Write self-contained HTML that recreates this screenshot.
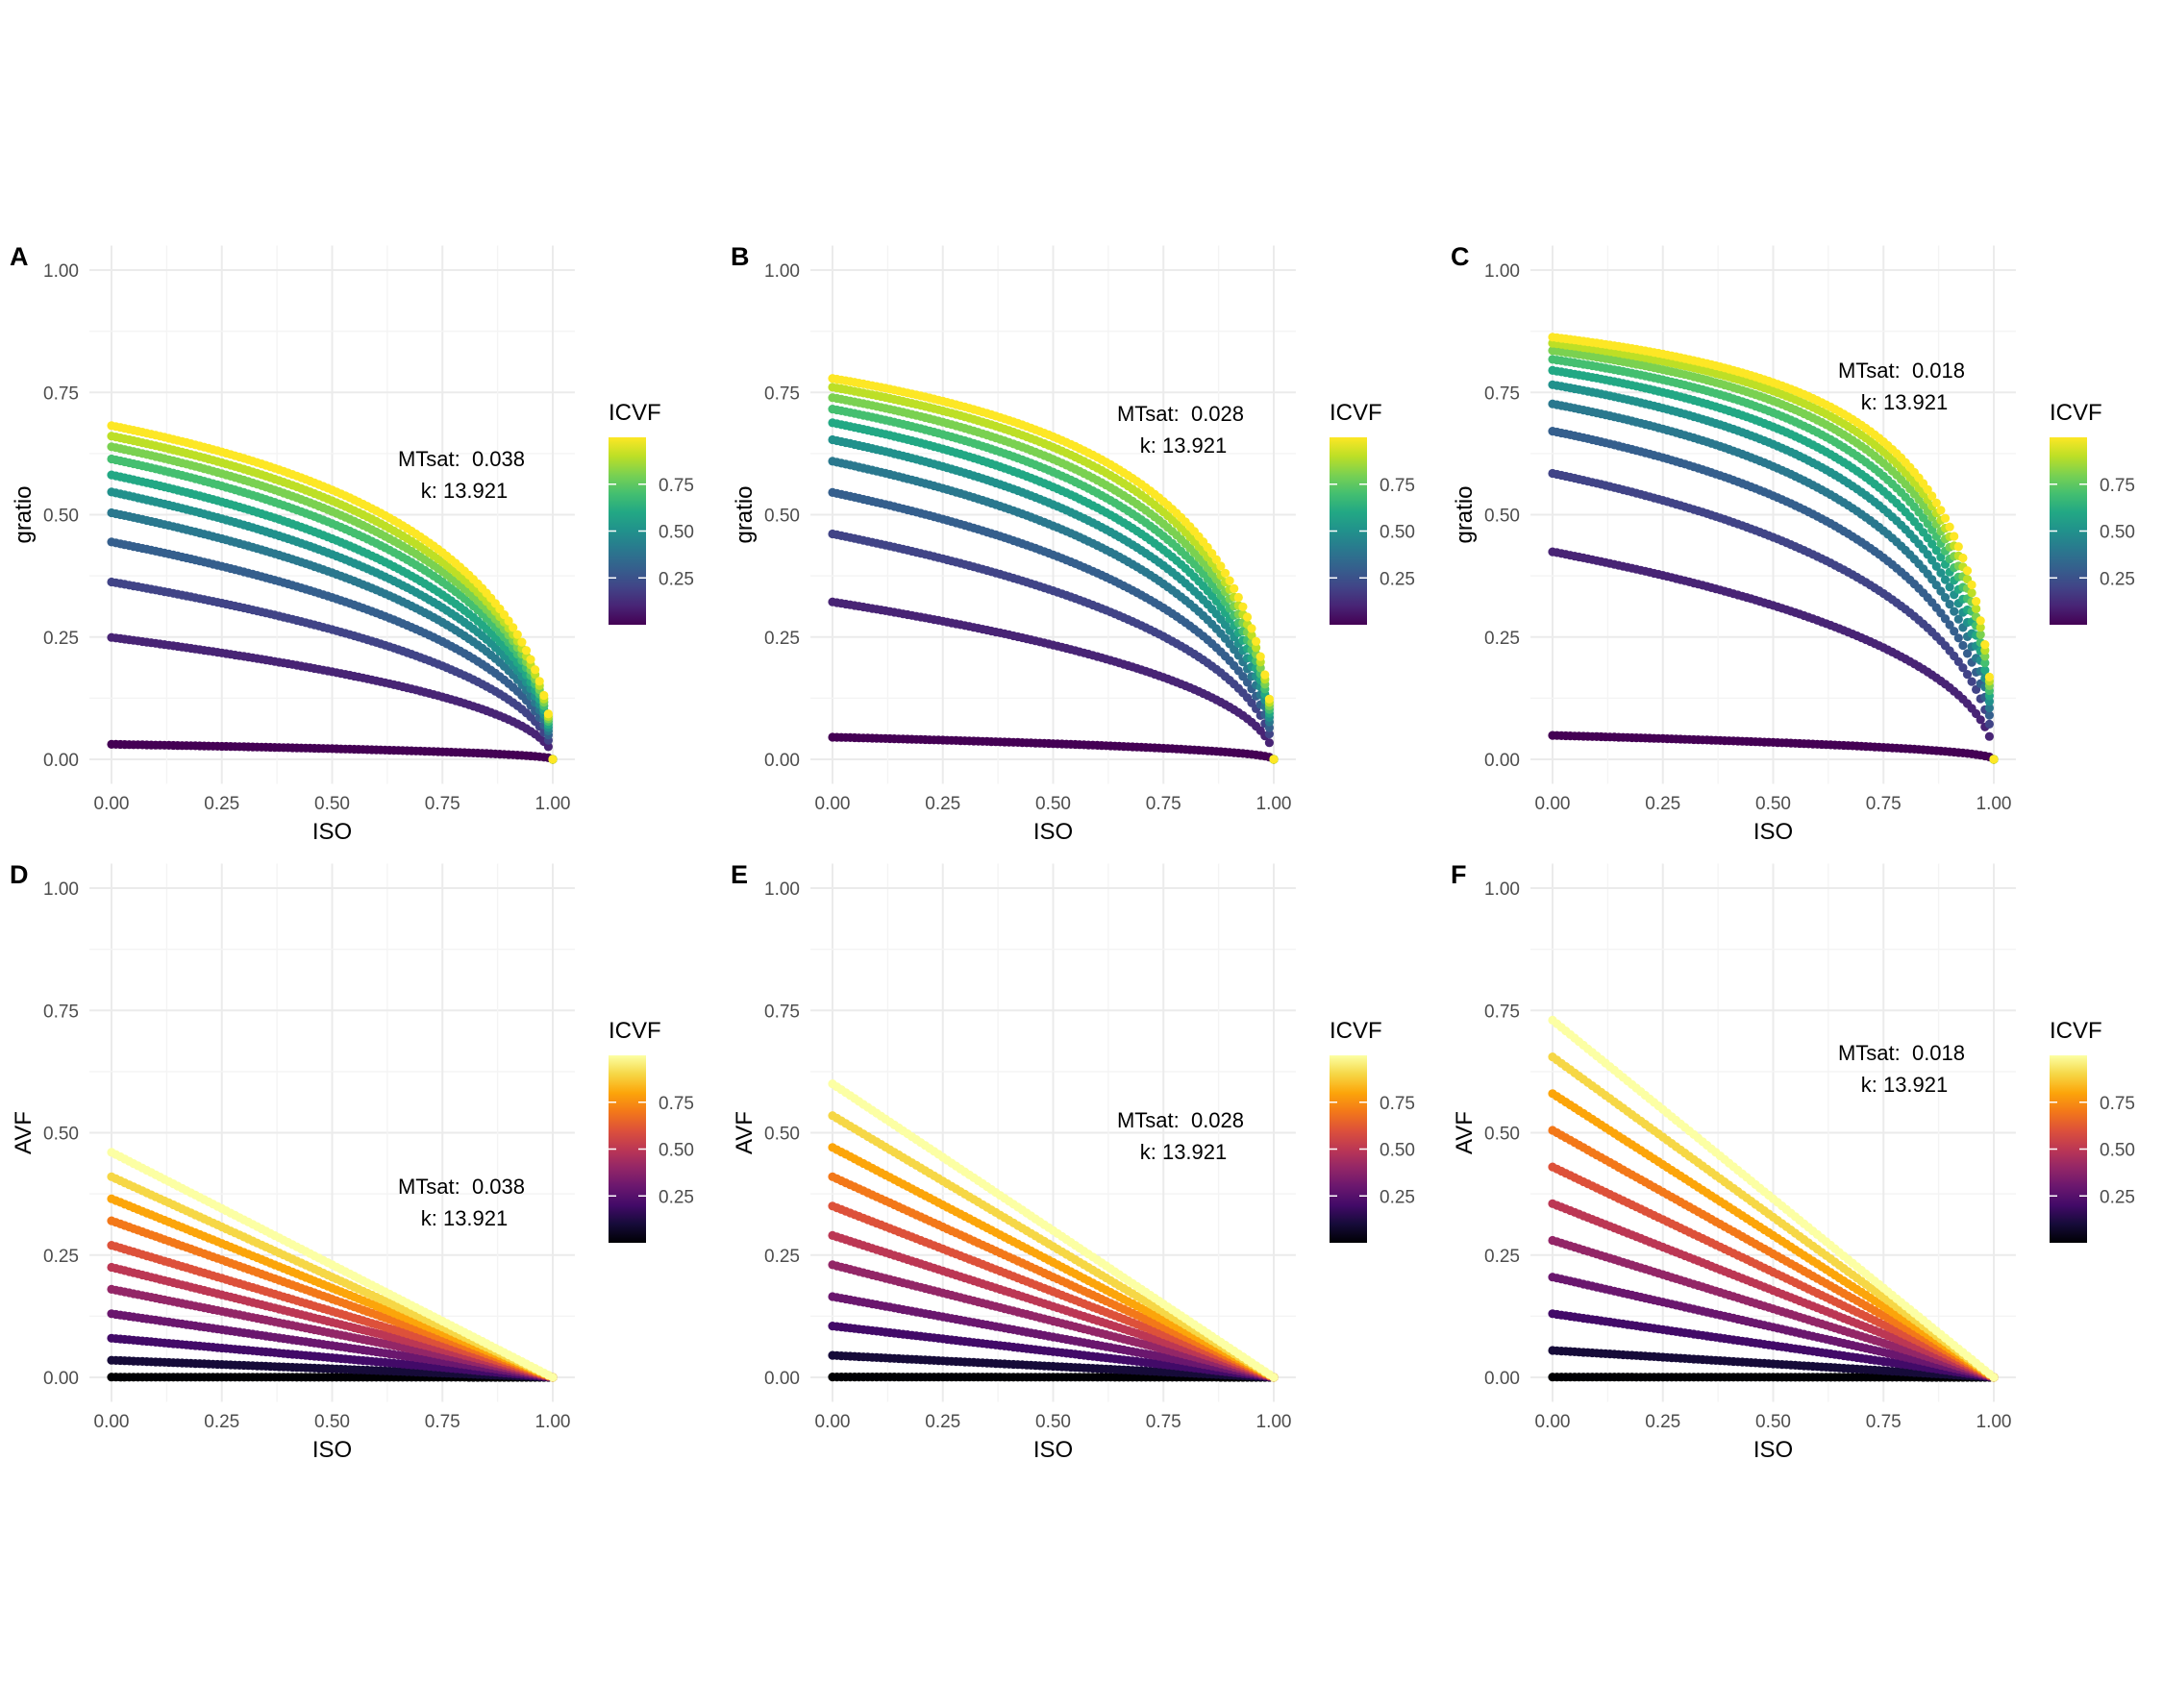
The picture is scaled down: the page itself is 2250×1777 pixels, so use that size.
<!DOCTYPE html>
<html><head><meta charset="utf-8"><style>
html,body{margin:0;padding:0;background:#fff;}
svg text{font-family:"Liberation Sans",sans-serif;white-space:pre;}
</style></head><body>
<svg id="fig" xmlns="http://www.w3.org/2000/svg" width="2250" height="1772" viewBox="0 0 2250 1772">
<defs>
<linearGradient id="gv" x1="0" y1="1" x2="0" y2="0">
<stop offset="0" stop-color="#440154"/><stop offset="0.1" stop-color="#482475"/><stop offset="0.2" stop-color="#414487"/><stop offset="0.3" stop-color="#355f8d"/><stop offset="0.4" stop-color="#2a788e"/><stop offset="0.5" stop-color="#21918c"/><stop offset="0.6" stop-color="#22a884"/><stop offset="0.7" stop-color="#44bf70"/><stop offset="0.8" stop-color="#7ad151"/><stop offset="0.9" stop-color="#bddf26"/><stop offset="1" stop-color="#fde725"/>
</linearGradient>
<linearGradient id="gi" x1="0" y1="1" x2="0" y2="0">
<stop offset="0" stop-color="#000004"/><stop offset="0.1" stop-color="#160b39"/><stop offset="0.2" stop-color="#420a68"/><stop offset="0.3" stop-color="#6a176e"/><stop offset="0.4" stop-color="#932667"/><stop offset="0.5" stop-color="#bc3754"/><stop offset="0.6" stop-color="#dd513a"/><stop offset="0.7" stop-color="#f37819"/><stop offset="0.8" stop-color="#fca50a"/><stop offset="0.9" stop-color="#f6d746"/><stop offset="1" stop-color="#fcffa4"/>
</linearGradient>
</defs>
</svg>
<script>
// ---- data ----
const icvf = [0,0.1,0.2,0.3,0.4,0.5,0.6,0.7,0.8,0.9,1.0];
const mtsat = [0.038, 0.028, 0.018];
const kval = 13.921;
const avfStartD = [0.0005,0.035,0.08,0.13,0.18,0.225,0.27,0.32,0.365,0.41,0.46];
const avfStartE = [0.0008,0.045,0.105,0.165,0.23,0.29,0.35,0.41,0.47,0.535,0.60];
const avfStartF = [0.0006,0.055,0.13,0.205,0.28,0.355,0.43,0.505,0.58,0.655,0.73];
const ticks = [0,0.25,0.5,0.75,1];
const tickLabels = ["0.00","0.25","0.50","0.75","1.00"];
const legendTicks = [0.25,0.5,0.75];
const legendLabels = ["0.25","0.50","0.75"];
const panelLetters = ["A","B","C","D","E","F"];

const NS="http://www.w3.org/2000/svg";
const svg=document.getElementById('fig');
function mk(tag,attrs,parent){const e=document.createElementNS(NS,tag);for(const k in attrs)e.setAttribute(k,attrs[k]);(parent||svg).appendChild(e);return e;}
function hex(h){return [parseInt(h.slice(1,3),16),parseInt(h.slice(3,5),16),parseInt(h.slice(5,7),16)];}
const vir=["#440154","#482475","#414487","#355f8d","#2a788e","#21918c","#22a884","#44bf70","#7ad151","#bddf26","#fde725"].map(hex);
const inf=["#000004","#160b39","#420a68","#6a176e","#932667","#bc3754","#dd513a","#f37819","#fca50a","#f6d746","#fcffa4"].map(hex);
function cmap(s,t){t=Math.max(0,Math.min(1,t));const p=t*10,i=Math.min(9,Math.floor(p)),f=p-i;const c=s[i].map((v,j)=>Math.round(v+(s[i+1][j]-v)*f));return `rgb(${c[0]},${c[1]},${c[2]})`;}

const colX=[116,866,1615], rowY=[790,1433];
const W=459, H=509;
const annX=[480,1228,1978], annY=[[478,431,386],[1235,1166,1096]];

function panel(ci,ri,idx,avfStart){
  const x0=colX[ci], y0=rowY[ri];
  const sx=v=>x0+v*W, sy=v=>y0-v*H;
  const g=mk('g',{});
  
  
  for(let n=0;n<=8;n++){
    const v=n/8;
    const major=n%2===0;
    const c=major?'#ebebeb':'#f4f4f4', w=major?2:1.4;
    const l1=mk('line',{x1:sx(v),x2:sx(v),y1:sy(1.05),y2:sy(-0.05),stroke:c,'stroke-width':w},g);
    
    const l2=mk('line',{x1:sx(-0.05),x2:sx(1.05),y1:sy(v),y2:sy(v),stroke:c,'stroke-width':w},g);
    
  }
  ticks.forEach((t,i)=>{
    const a=mk('text',{x:sx(t),y:y0+52,'font-size':19,fill:'#4d4d4d','text-anchor':'middle'},g);a.textContent=tickLabels[i];
    
    const b=mk('text',{x:x0-34,y:sy(t)+7,'font-size':19,fill:'#4d4d4d','text-anchor':'end'},g);b.textContent=tickLabels[i];
    
  });
  const xt=mk('text',{x:sx(0.5),y:y0+83,'font-size':24,fill:'#000','text-anchor':'middle'},g);xt.textContent='ISO';
  
  const ytx=x0-84, yty=sy(0.5);
  const yt=mk('text',{x:ytx,y:yty,'font-size':24,fill:'#000','text-anchor':'middle',transform:`rotate(-90 ${ytx} ${yty})`},g);
  yt.textContent=ri===0?'gratio':'AVF';
  
  const pl=mk('text',{x:x0-106,y:sy(1)-5,'font-size':27,'font-weight':'bold',fill:'#000'},g);pl.textContent=panelLetters[idx];
  
  const m=mtsat[ci]*kval;
  const sc=ri===0?vir:inf;
  icvf.forEach((iv,k)=>{
    const sg=mk('g',{fill:cmap(sc,iv)},g);
    
    
    for(let n=0;n<=100;n++){
      const iso=n/100;
      const a=avfStart[k]*(1-iso);
      const val=ri===0?(a+m>0?Math.sqrt(a/(m+a)):0):a;
      mk('circle',{cx:sx(iso).toFixed(1),cy:sy(val).toFixed(1),r:4.6},sg);
    }
  });
  const ax=annX[ci], ay=annY[ri][ci];
  const t1=mk('text',{x:ax,y:ay+7,'font-size':22,fill:'#000','text-anchor':'middle'},g);t1.textContent='MTsat:  '+mtsat[ci].toFixed(3);
  
  const t2=mk('text',{x:ax+3,y:ay+40,'font-size':22,fill:'#000','text-anchor':'middle'},g);t2.textContent='k: '+kval.toFixed(3);
  
  const lx=x0+517, lyTop=y0-335, lh=195;
  const lg=mk('g',{},g);
  
  const lt=mk('text',{x:lx,y:lyTop-18,'font-size':24,fill:'#000'},lg);lt.textContent='ICVF';
  
  const bar=mk('rect',{x:lx,y:lyTop,width:39,height:lh,fill:ri===0?'url(#gv)':'url(#gi)'},lg);
  
  legendTicks.forEach((t,i)=>{
    const yy=lyTop+(1-t)*lh;
    mk('line',{x1:lx,x2:lx+8,y1:yy,y2:yy,stroke:'#fff','stroke-width':1.5},lg);
    mk('line',{x1:lx+31,x2:lx+39,y1:yy,y2:yy,stroke:'#fff','stroke-width':1.5},lg);
    const tl=mk('text',{x:lx+52,y:yy+7,'font-size':19,fill:'#4d4d4d'},lg);tl.textContent=legendLabels[i];
    
  });
}
const avfs=[avfStartD,avfStartE,avfStartF];
for(let ri=0;ri<2;ri++)for(let ci=0;ci<3;ci++)panel(ci,ri,ri*3+ci,avfs[ci]);
</script>
</body></html>
